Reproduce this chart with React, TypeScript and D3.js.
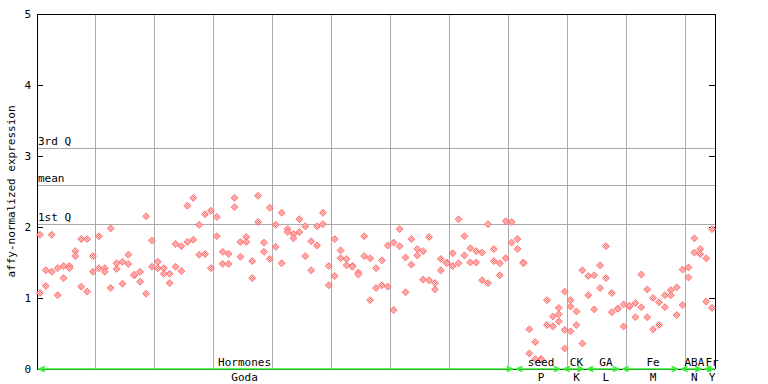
import React from "react";
import * as d3 from "d3";

const expression: number[][] = [
  [1.89, 1.07], [1.39, 1.17], [1.89, 1.37], [1.42, 1.04], [1.45, 1.28],
  [1.45, 1.42], [1.66, 1.59], [1.83, 1.16], [1.83, 1.09], [1.59, 1.37],
  [1.87, 1.42], [1.42, 1.37], [1.98, 1.14], [1.49, 1.41], [1.51, 1.2],
  [1.61, 1.48], [1.32, 1.33], [1.37, 1.23], [2.15, 1.06], [1.81, 1.44],
  [1.51, 1.42], [1.42, 1.34], [1.34, 1.21], [1.76, 1.44], [1.73, 1.38],
  [2.3, 1.79], [2.41, 1.82], [2.03, 1.61], [2.18, 1.62], [2.23, 1.42],
  [2.14, 1.87], [1.65, 1.48], [1.62, 1.48], [2.41, 2.28], [1.79, 1.58],
  [1.86, 1.79], [1.52, 1.28], [2.44, 2.07], [1.78, 1.65], [2.27, 1.55],
  [2.03, 1.72], [2.2, 1.49], [1.97, 1.93], [1.9, 1.84], [2.11, 1.93],
  [2.01, 1.59], [1.8, 1.39], [2.01, 1.74], [2.2, 2.04], [1.45, 1.18],
  [1.83, 1.31], [1.67, 1.56], [1.55, 1.46], [1.45, 1.44], [1.36, 1.33],
  [1.87, 1.59], [1.56, 0.97], [1.42, 1.14], [1.53, 1.18], [1.74, 1.16],
  [1.78, 0.83], [1.97, 1.73], [1.57, 1.08], [1.83, 1.47], [1.69, 1.6],
  [1.66, 1.26], [1.86, 1.25], [1.21, 1.12], [1.55, 1.39], [1.5, 1.49],
  [1.63, 1.45], [2.11, 1.49], [1.87, 1.6], [1.7, 1.5], [1.66, 1.5],
  [1.64, 1.25], [2.04, 1.21], [1.69, 1.52], [1.49, 1.32], [2.08, 1.56],
  [2.07, 1.78], [1.83, 1.69], [1.5, 1.49], [0.56, 0.22], [0.38, 0.14],
  [0.14, 0.13], [0.97, 0.62], [0.74, 0.6], [0.86, 0.77, 0.67], [1.09, 0.55, 0.29],
  [0.97, 0.88, 0.53], [0.81, 0.62], [1.39, 0.36], [1.31, 1.04], [1.32, 0.84],
  [1.46, 1.14], [1.73, 1.28], [1.07, 0.8], [0.85, 0.85], [0.91, 0.6],
  [0.88, 0.89], [0.93, 0.73], [1.33, 0.87], [1.12, 0.73], [1.0, 0.56],
  [0.94, 0.62], [1.04, 0.87], [1.11, 1.04], [1.15, 0.76], [1.4, 0.9],
  [1.43, 1.29], [1.84, 1.64], [1.69, 1.62], [1.56, 0.95], [1.97, 0.86],
];

const yTicks = [0, 1, 2, 3, 4, 5];
const refLines = [
  { label: "3rd Q", value: 3.11 },
  { label: "mean", value: 2.59 },
  { label: "1st Q", value: 2.04 },
];
const groupTop = ["Hormones", "seed", "CK", "GA", "Fe", "ABA", "Fr"];
const groupBottom = ["Goda", "P", "K", "L", "M", "N", "Y"];
const groupStart = [0, 81, 89, 93, 99, 109, 113];
const groupEnd = [81, 89, 93, 99, 109, 113, 115];
const groupLabelAt = [34.7, 85, 91, 96, 104, 111, 114];

const W = 768, H = 384;
const L = 37, R = 715, T = 14, B = 369;
const FONT = "'DejaVu Sans Mono', monospace";
const GREEN = "#33ee33";

export default function App() {
  const n = expression.length;
  const x = d3.scaleBand<number>().domain(d3.range(n)).range([L, R]).padding(0);
  const bw = x.bandwidth();
  const cx = (i: number) => L + (i + 0.5) * bw;
  const y = d3.scaleLinear().domain([0, 5]).range([B, T]);
  const dp = d3.path();
  dp.moveTo(0, -3.5); dp.lineTo(3.5, 0); dp.lineTo(0, 3.5); dp.lineTo(-3.5, 0); dp.closePath();
  const diamond = dp.toString();

  const vGrid = d3.range(10, n, 10);

  return (
    <svg width={W} height={H} style={{ position: "absolute", left: 0, top: 0, background: "#fff" }} fontFamily={FONT}>
      <defs>
        <pattern id="chk" width="2" height="2" patternUnits="userSpaceOnUse">
          <rect width="2" height="2" fill="#ffffff" />
          <rect x="0" y="0" width="1" height="1" fill="#ff4d4d" />
          <rect x="1" y="1" width="1" height="1" fill="#ff4d4d" />
        </pattern>
      </defs>
      {vGrid.map((i) => (
        <line key={"v" + i} x1={x(i)!} x2={x(i)!} y1={T} y2={B} stroke="#aaaaaa" strokeWidth={1} shapeRendering="crispEdges" />
      ))}
      {refLines.map((r) => (
        <g key={r.label}>
          <line x1={L} x2={R} y1={y(r.value)} y2={y(r.value)} stroke="#aaaaaa" strokeWidth={1} shapeRendering="crispEdges" />
          <text x={L + 1} y={y(r.value) - 3} fontSize={11} fill="#000">{r.label}</text>
        </g>
      ))}
      <line x1={L} x2={R} y1={T} y2={T} stroke="#000" shapeRendering="crispEdges" />
      <line x1={L} x2={L} y1={T} y2={B} stroke="#000" shapeRendering="crispEdges" />
      <line x1={R} x2={R} y1={T} y2={B} stroke="#000" shapeRendering="crispEdges" />
      <line x1={L} x2={R} y1={B} y2={B} stroke="#000" shapeRendering="crispEdges" />
      {yTicks.map((t) => (
        <g key={"t" + t}>
          <line x1={L} x2={L + 6} y1={y(t)} y2={y(t)} stroke="#000" shapeRendering="crispEdges" />
          <line x1={R - 6} x2={R} y1={y(t)} y2={y(t)} stroke="#000" shapeRendering="crispEdges" />
          <text x={31} y={y(t) + 4} fontSize={11} textAnchor="end" fill="#000">{t}</text>
        </g>
      ))}
      <text transform={`translate(15,${(T + B) / 2}) rotate(-90)`} fontSize={11} textAnchor="middle" fill="#000">
        affy-normalized expression
      </text>
      {expression.map((vals, i) =>
        vals.map((v, j) => (
          <path key={i + "-" + j} d={diamond} transform={`translate(${cx(i)},${y(v)})`} fill="url(#chk)" stroke="#ff5555" strokeWidth={0.7} />
        ))
      )}
      {groupStart.map((s, k) => {
        const x0 = x(s)! + 2;
        const x1 = k === groupStart.length - 1 ? R - 2 : x(groupEnd[k])! - 2;
        return (
          <g key={"g" + k} stroke={GREEN} strokeWidth={1.6} fill="none">
            <line x1={x0} x2={x1} y1={B} y2={B} />
            <polyline points={`${x0 + 6},${B - 2.5} ${x0},${B} ${x0 + 6},${B + 2.5}`} />
            <polyline points={`${x1 - 6},${B - 2.5} ${x1},${B} ${x1 - 6},${B + 2.5}`} />
          </g>
        );
      })}
      {groupTop.map((g, k) => (
        <text key={"gt" + k} x={cx(groupLabelAt[k])} y={366} fontSize={11} textAnchor="middle" fill="#000">{g}</text>
      ))}
      {groupBottom.map((g, k) => (
        <text key={"gb" + k} x={cx(groupLabelAt[k])} y={381} fontSize={11} textAnchor="middle" fill="#000">{g}</text>
      ))}
    </svg>
  );
}
